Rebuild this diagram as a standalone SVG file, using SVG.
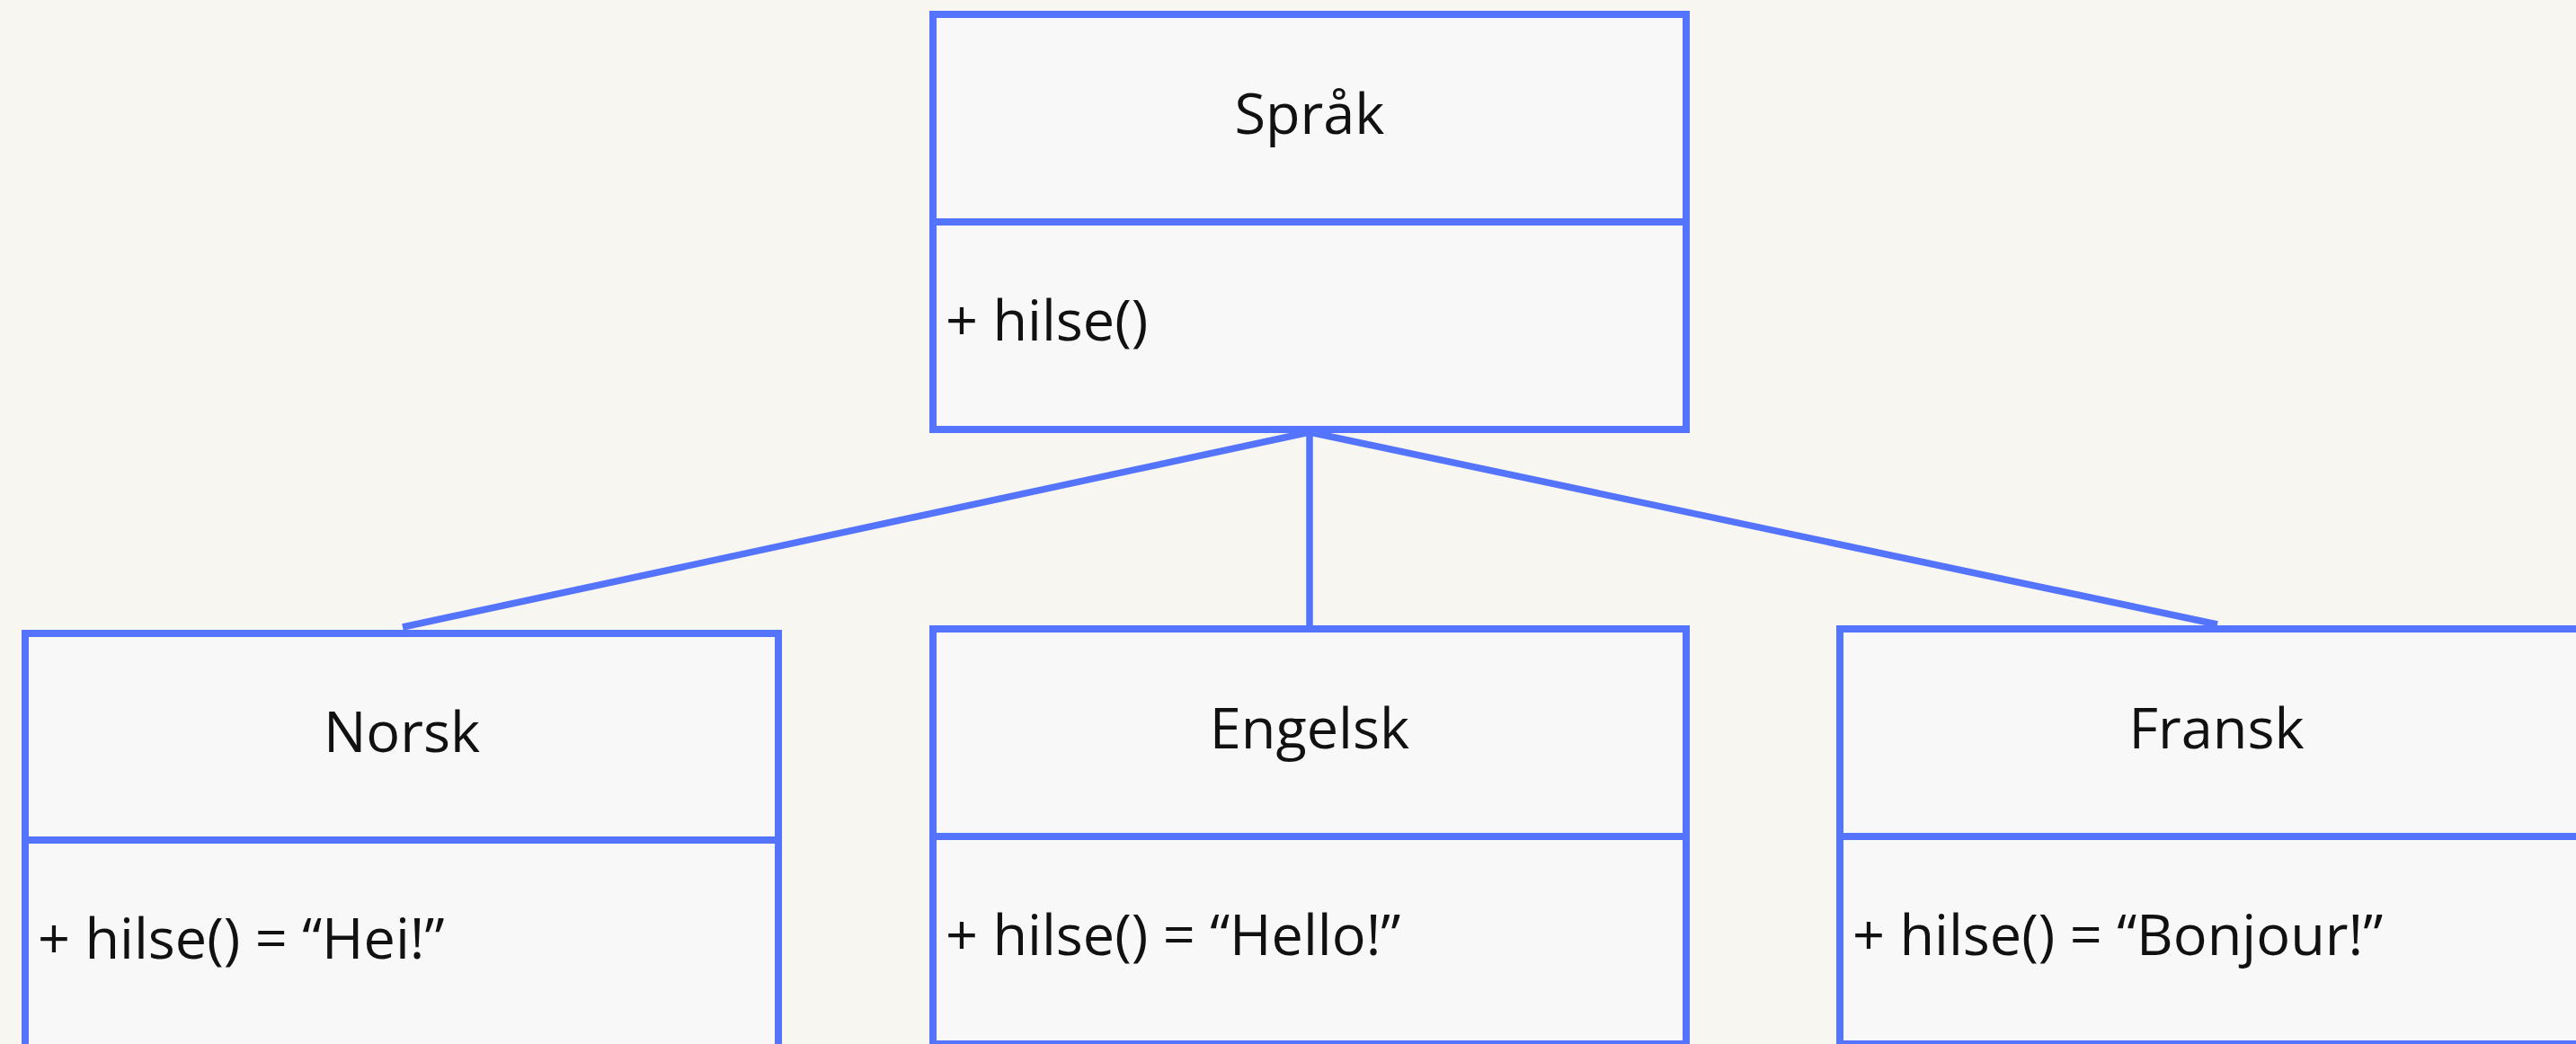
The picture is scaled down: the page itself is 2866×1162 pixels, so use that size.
<svg xmlns="http://www.w3.org/2000/svg" width="2866" height="1162" viewBox="0 0 2866 1162">
  <style>
    .box { fill: #f8f8f8; stroke: #5574fd; stroke-width: 8; }
    .div { stroke: #5574fd; stroke-width: 8; }
    .edge { stroke: #5574fd; stroke-width: 7.5; fill: none; }
    .title { font-family: "Open Sans", "Noto Sans", sans-serif; font-size: 63px; fill: #111111; text-anchor: middle; }
    .member { font-family: "Open Sans", "Noto Sans", sans-serif; font-size: 63px; fill: #111111; }
  </style>
  <rect x="0" y="0" width="2866" height="1162" fill="#f8f6f0"/>

  <!-- generalisation links from the subclasses up to the base class -->
  <g id="connectors">
    <line class="edge" x1="1457" y1="481" x2="448" y2="698"/>
    <line class="edge" x1="1457" y1="481" x2="1457" y2="700"/>
    <line class="edge" x1="1457" y1="481" x2="2467" y2="695"/>
  </g>

  <g id="sprak">
    <rect class="box" x="1038" y="16" width="838" height="462"/>
    <line class="div" x1="1038" y1="247" x2="1876" y2="247"/>
    <text class="title" x="1457" y="149">Språk</text>
    <text class="member" x="1052" y="379">+ hilse()</text>
  </g>

  <g id="norsk">
    <rect class="box" x="28" y="705" width="838" height="462"/>
    <line class="div" x1="28" y1="935" x2="866" y2="935"/>
    <text class="title" x="447" y="837">Norsk</text>
    <text class="member" x="42" y="1067">+ hilse() = “Hei!”</text>
  </g>

  <g id="engelsk">
    <rect class="box" x="1038" y="700" width="838" height="462"/>
    <line class="div" x1="1038" y1="931" x2="1876" y2="931"/>
    <text class="title" x="1457" y="833">Engelsk</text>
    <text class="member" x="1052" y="1063">+ hilse() = “Hello!”</text>
  </g>

  <g id="fransk">
    <rect class="box" x="2047" y="700" width="838" height="462"/>
    <line class="div" x1="2047" y1="931" x2="2885" y2="931"/>
    <text class="title" x="2466" y="833">Fransk</text>
    <text class="member" x="2061" y="1063">+ hilse() = “Bonjour!”</text>
  </g>
</svg>
